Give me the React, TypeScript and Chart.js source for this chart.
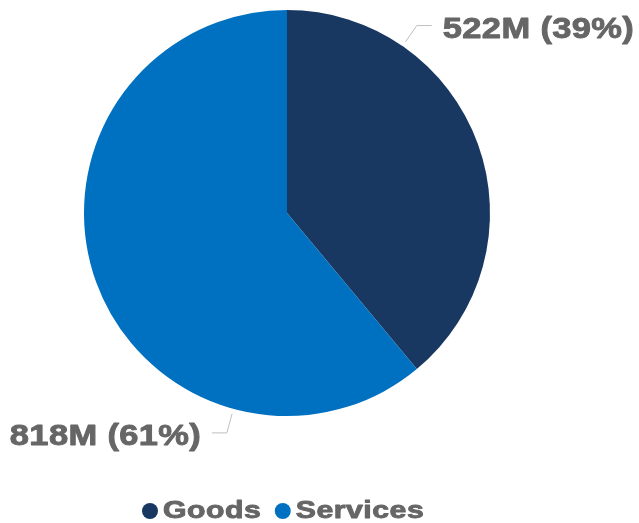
import React, { useEffect, useRef } from "react";
import { Chart, registerables } from "chart.js";

Chart.register(...registerables);

const categories = ["Goods", "Services"];
const values = [522, 818];
const colors = ["#183862", "#0071C1"];

const LABEL_GRAY = "#666666";
const LEADER_GRAY = "#BFBFBF";

function drawWide(
  ctx: CanvasRenderingContext2D,
  text: string,
  x: number,
  y: number,
  scaleX: number,
  spacing: number,
  align: "left" | "right"
) {
  const chars = Array.from(text);
  const widths = chars.map((c) => ctx.measureText(c).width);
  const local = widths.reduce((a, b) => a + b, 0) + spacing * (chars.length - 1);
  const total = local * scaleX;
  const startX = align === "right" ? x - total : x;
  ctx.save();
  ctx.translate(startX, y);
  ctx.scale(scaleX, 1);
  ctx.textAlign = "left";
  ctx.lineWidth = 0.9;
  ctx.lineJoin = "round";
  ctx.strokeStyle = ctx.fillStyle as string;
  let cx = 0;
  chars.forEach((c, i) => {
    ctx.fillText(c, cx, 0);
    ctx.strokeText(c, cx, 0);
    cx += widths[i] + spacing;
  });
  ctx.restore();
  return total;
}

const labelPlugin = {
  id: "customLabels",
  afterDraw(chart: any) {
    const ctx: CanvasRenderingContext2D = chart.ctx;
    const meta = chart.getDatasetMeta(0);
    const data: number[] = chart.data.datasets[0].data;
    const total = data.reduce((a, b) => a + b, 0);
    const anchors = [
      { angle: 34.7, dir: 1 },
      { angle: 195.3, dir: -1 },
    ];
    ctx.save();
    meta.data.forEach((arc: any, i: number) => {
      const { x: cx, y: cy, outerRadius: R } = arc.getProps(["x", "y", "outerRadius"], true);
      const a = (anchors[i].angle * Math.PI) / 180;
      const dir = anchors[i].dir;
      const r1 = R + 5;
      const r2 = R + 25;
      const p1x = cx + r1 * Math.sin(a);
      const p1y = cy - r1 * Math.cos(a);
      const p2x = cx + r2 * Math.sin(a);
      const p2y = cy - r2 * Math.cos(a);
      const p3x = p2x + dir * 15;
      ctx.strokeStyle = LEADER_GRAY;
      ctx.lineWidth = 1;
      ctx.beginPath();
      ctx.moveTo(p1x, p1y);
      ctx.lineTo(p2x, p2y);
      ctx.lineTo(p3x, p2y);
      ctx.stroke();

      const pct = Math.round((data[i] / total) * 100);
      const text = `${data[i]}M (${pct}%)`;
      ctx.font = "bold 30px 'Liberation Sans', Arial, sans-serif";
      ctx.fillStyle = LABEL_GRAY;
      ctx.textBaseline = "middle";
      drawWide(ctx, text, p3x + dir * 11, p2y + 4, 1.15, 0.3, dir > 0 ? "left" : "right");
    });

    const area = chart.chartArea;
    ctx.font = "bold 24px 'Liberation Sans', Arial, sans-serif";
    ctx.textBaseline = "middle";
    const legendY = 511;
    let x = area.left + 58;
    chart.data.labels.forEach((lab: string, i: number) => {
      ctx.fillStyle = chart.data.datasets[0].backgroundColor[i];
      ctx.beginPath();
      ctx.arc(x + 8, legendY, 8, 0, Math.PI * 2);
      ctx.fill();
      x += 21;
      ctx.fillStyle = LABEL_GRAY;
      const w = drawWide(ctx, lab, x, legendY, 1.26, 0.4, "left");
      x += w + 14;
    });
    ctx.restore();
  },
};

export default function App() {
  const canvasRef = useRef<HTMLCanvasElement | null>(null);

  useEffect(() => {
    document.body.style.margin = "0";
    const canvas = canvasRef.current;
    if (!canvas) return;
    const chart = new Chart(canvas, {
      type: "pie",
      data: {
        labels: categories,
        datasets: [
          {
            data: values,
            backgroundColor: colors,
            borderWidth: 0,
          },
        ],
      },
      options: {
        responsive: false,
        animation: false,
        layout: { padding: { left: 84, right: 149, top: 10, bottom: 107 } },
        plugins: {
          legend: { display: false },
          tooltip: { enabled: false },
        },
      },
      plugins: [labelPlugin],
    });
    return () => chart.destroy();
  }, []);

  return (
    <div style={{ width: 639, height: 523, background: "#fff" }}>
      <canvas ref={canvasRef} width={639} height={523} style={{ display: "block" }} />
    </div>
  );
}
